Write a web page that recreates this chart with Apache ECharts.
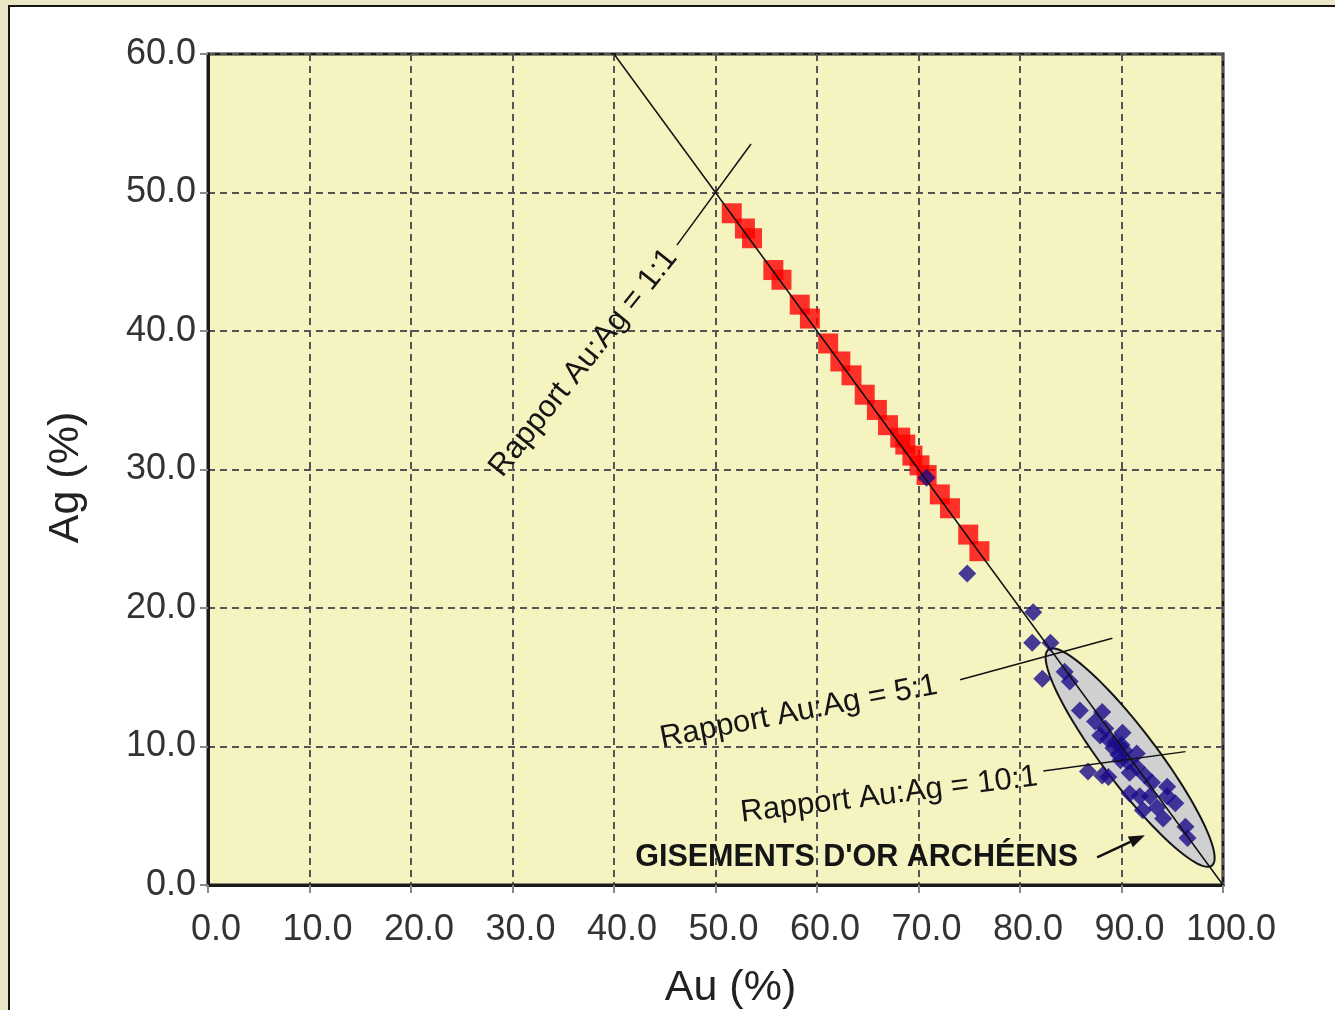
<!DOCTYPE html>
<html><head><meta charset="utf-8">
<script src="https://cdn.jsdelivr.net/npm/echarts@6/dist/echarts.min.js"></script>
<style>
html,body{margin:0;padding:0;background:#ebe7c6;overflow:hidden;width:1335px;height:1010px}
#panel{position:absolute;left:8px;top:5px;width:1340px;height:1020px;background:#fff;border-left:2px solid #151515;border-top:2px solid #151515}
#chart{position:absolute;left:0;top:0;width:1335px;height:1010px}
</style></head><body><div id="panel"></div><div id="chart"></div>
<script>
// ---- data ----
const xName = 'Au (%)';
const yName = 'Ag (%)';
const redPoints = [
  [51.6,48.5],[52.9,47.4],[53.6,46.7],[55.7,44.4],[56.5,43.7],[58.3,41.9],[59.3,40.9],
  [61.1,39.1],[62.3,37.8],[63.4,36.8],[64.7,35.4],[65.9,34.3],[67.0,33.2],[68.2,32.3],
  [68.7,31.8],[69.4,31.0],[70.1,30.3],[70.8,29.6],[72.1,28.2],[73.1,27.2],[74.9,25.3],[76.0,24.1]
];
const bluePoints = [
  [70.8,29.4],[74.8,22.5],[81.3,19.7],[81.2,17.5],[83.0,17.5],[82.2,14.9],[84.4,15.4],[84.9,14.7],
  [85.9,12.6],[87.4,11.8],[88.1,12.5],[87.9,10.8],[88.7,10.5],[90.1,11.0],[89.2,9.9],[89.7,9.4],
  [91.5,9.5],[90.6,8.9],[91.5,8.5],[86.7,8.2],[88.1,7.9],[88.7,7.8],[92.3,7.9],[93.0,7.4],
  [90.8,6.6],[91.8,6.4],[94.5,7.1],[94.5,6.4],[95.3,5.9],[92.1,5.4],[93.5,5.6],[94.1,4.8],
  [96.3,4.2],[96.5,3.4],[92.8,6.4],[88.4,11.3],[89.4,10.3],[90.3,9.7],[89.9,9.0],[90.8,8.1],[90.0,10.1]
];
const line1to1Main = [[40,60],[100,0]];
const line1to1Cross = [[46.2,46.2],[53.5,53.5]];
const line5to1 = [[74.1,14.82],[89.1,17.82]];
const line10to1 = [[82.3,8.23],[96.3,9.63]];
const ellipseAxis = [[82.8,17.0],[98.9,1.4]];
const arrowSeg = [[87.6,2.0],[92.3,3.6]];
const labelTexts = ['Rapport Au:Ag = 1:1','Rapport Au:Ag = 5:1','Rapport Au:Ag = 10:1','GISEMENTS D\'OR ARCHÉENS'];
const labelPos = [[37.0,37.7],[58.2,12.5],[67.1,6.5],[63.9,2.0]];

// ---- styles ----
const FONT = '"Liberation Sans", Arial, Helvetica, sans-serif';
const labelAngles = [51.4, 11, 7, 0];
const labelWeights = ['normal','normal','normal','bold'];
const labelSizes = [31, 31, 31, 30.5];
const ellipseMinorPx = 27;

const chart = echarts.init(document.getElementById('chart'), null, {renderer:'canvas'});

function segSeries(pts, z){
  return {type:'line', data:pts, symbol:'none', silent:true, z:z||5,
    lineStyle:{color:'#111', width:1.5}, animation:false};
}

const option = {
  backgroundColor:'transparent',
  animation:false,
  grid:{left:208, top:54, width:1015, height:831, containLabel:false, outerBoundsMode:'none',
    show:true, backgroundColor:'#f5f4c1', borderColor:'#1a1a1a', borderWidth:3},
  xAxis:{type:'value', min:0, max:100, interval:10,
    name:xName, nameLocation:'middle', nameGap:82,
    nameTextStyle:{fontSize:43, color:'#222', fontFamily:FONT, padding:[0,0,0,30]},
    axisLine:{show:true, onZero:false, lineStyle:{color:'#1a1a1a', width:3}},
    axisTick:{show:true, length:8, lineStyle:{color:'#888', width:2}},
    axisLabel:{fontSize:36, color:'#333', fontFamily:FONT, margin:27, padding:[0,0,0,16], formatter:v=>v.toFixed(1)},
    splitLine:{show:true, lineStyle:{type:[7,5], color:'#555', width:2}}
  },
  yAxis:{type:'value', min:0, max:60, interval:10,
    name:yName, nameLocation:'middle', nameGap:120,
    nameTextStyle:{fontSize:43, color:'#222', fontFamily:FONT, padding:[0,16,0,0]},
    axisLine:{show:true, onZero:false, lineStyle:{color:'#1a1a1a', width:3}},
    axisTick:{show:true, length:8, lineStyle:{color:'#888', width:2}},
    axisLabel:{fontSize:36, color:'#333', fontFamily:FONT, margin:12, formatter:v=>v.toFixed(1)},
    splitLine:{show:true, lineStyle:{type:[7,5], color:'#555', width:2}}
  },
  series:[
    {type:'custom', z:2, silent:true,
      data:[[ellipseAxis[0][0],ellipseAxis[0][1],ellipseAxis[1][0],ellipseAxis[1][1]]],
      renderItem:function(params, api){
        const p1 = api.coord([api.value(0), api.value(1)]);
        const p2 = api.coord([api.value(2), api.value(3)]);
        const cx=(p1[0]+p2[0])/2, cy=(p1[1]+p2[1])/2;
        const a=Math.hypot(p2[0]-p1[0],p2[1]-p1[1])/2;
        const b=ellipseMinorPx;
        const th=Math.atan2(p2[1]-p1[1],p2[0]-p1[0]);
        const pts=[];
        for(let i=0;i<120;i++){
          const t=i/120*Math.PI*2;
          const ex=a*Math.cos(t), ey=b*Math.sin(t);
          pts.push([cx+ex*Math.cos(th)-ey*Math.sin(th), cy+ex*Math.sin(th)+ey*Math.cos(th)]);
        }
        return {type:'polygon', shape:{points:pts}, style:{fill:'#d0d0d0', stroke:'#151515', lineWidth:2}};
      }
    },
    {type:'scatter', data:redPoints, symbol:'rect', symbolSize:20, z:3,
      itemStyle:{color:'#ff0000'}, silent:true},
    {type:'scatter', data:bluePoints, symbol:'diamond', symbolSize:18, z:4,
      itemStyle:{color:'#1a0b8a'}, silent:true},
    segSeries(line1to1Main),
    segSeries(line1to1Cross),
    segSeries(line5to1),
    segSeries(line10to1),
    {type:'custom', z:6, silent:true,
      data:[[arrowSeg[0][0],arrowSeg[0][1],arrowSeg[1][0],arrowSeg[1][1]]],
      renderItem:function(params, api){
        const p1 = api.coord([api.value(0), api.value(1)]);
        const p2 = api.coord([api.value(2), api.value(3)]);
        const th=Math.atan2(p2[1]-p1[1],p2[0]-p1[0]);
        const L=16, W=6;
        const bx=p2[0]-L*Math.cos(th), by=p2[1]-L*Math.sin(th);
        const nx=-Math.sin(th), ny=Math.cos(th);
        return {type:'group', children:[
          {type:'line', shape:{x1:p1[0],y1:p1[1],x2:bx,y2:by}, style:{stroke:'#111', lineWidth:2.5}},
          {type:'polygon', shape:{points:[[p2[0],p2[1]],[bx+nx*W,by+ny*W],[bx-nx*W,by-ny*W]]}, style:{fill:'#111'}}
        ]};
      }
    },
    {type:'custom', z:7, silent:true,
      data:labelPos.map((p,i)=>[p[0],p[1],i]),
      renderItem:function(params, api){
        const i = api.value(2);
        const p = api.coord([api.value(0), api.value(1)]);
        return {type:'text', x:p[0], y:p[1], rotation:labelAngles[i]*Math.PI/180,
          style:{text:labelTexts[i], x:0, y:0, align:'center', verticalAlign:'middle',
            fontSize:labelSizes[i], fontWeight:labelWeights[i], fontFamily:FONT, fill:'#151515'}};
      }
    }
  ]
};
chart.setOption(option);
</script></body></html>
